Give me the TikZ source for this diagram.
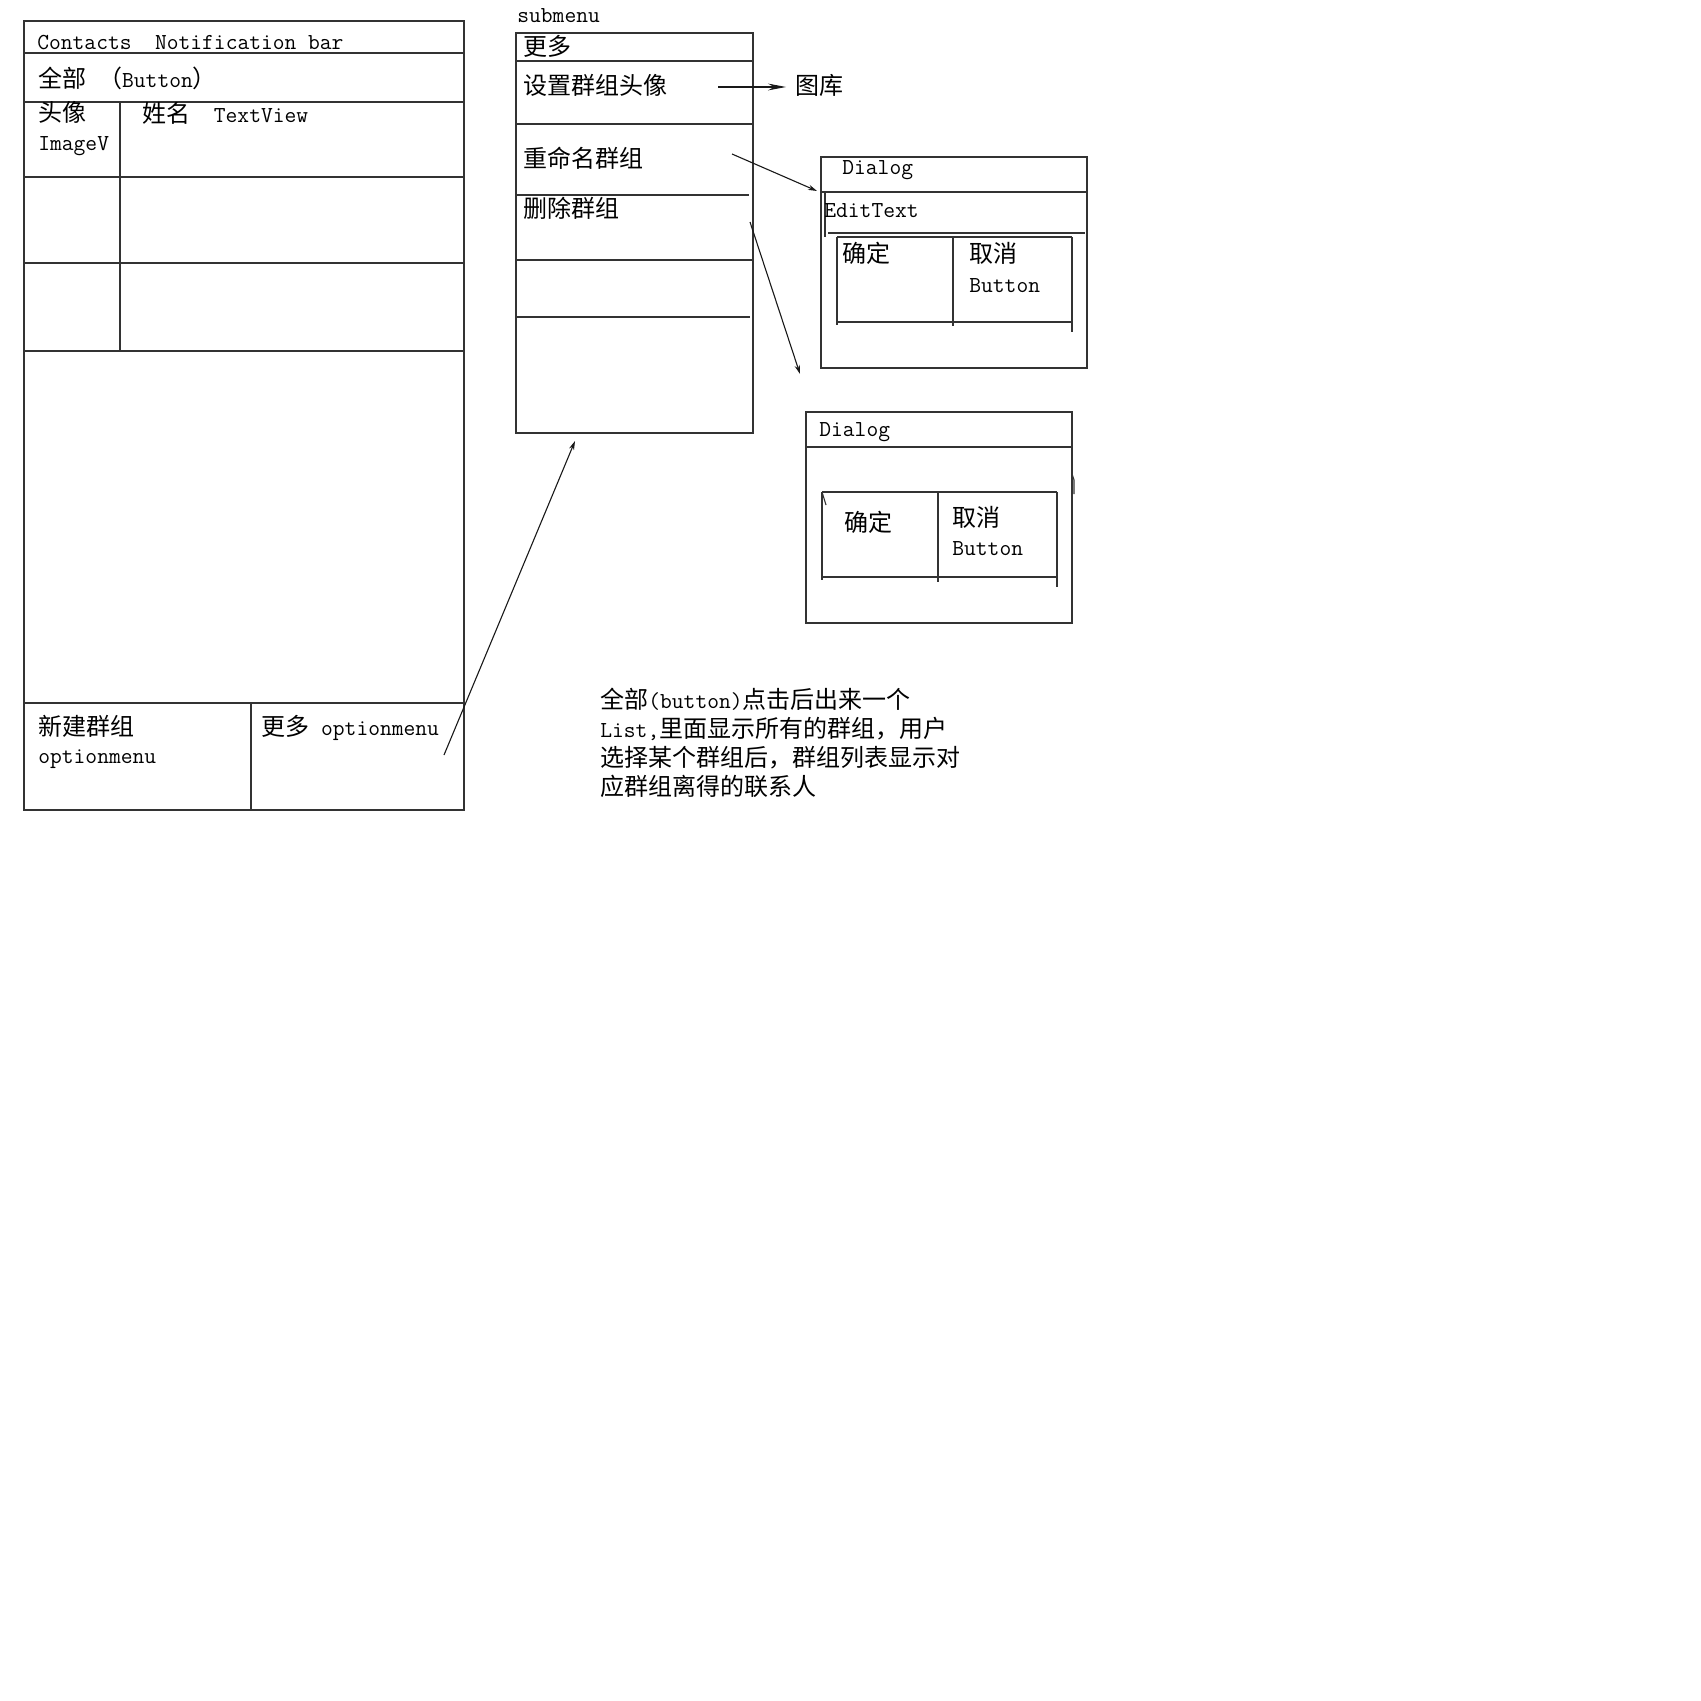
\documentclass[tikz,border=0pt]{standalone}
\usepackage{fontspec}
\newfontfamily\cjk{Noto Sans CJK SC}[Scale=1.05]
\usetikzlibrary{arrows.meta}
\tikzset{
  ln/.style={draw=black!80, line width=0.55pt},
  txt/.style={anchor=base west, inner sep=0pt, font=\ttfamily\fontsize{11.43}{14}\selectfont},
  arr/.style={draw=black!90, line width=0.55pt, -{Stealth[length=4.5pt,width=2.6pt]}},
  bigarr/.style={draw=black!90, line width=0.55pt, -{Stealth[length=9pt,width=3.4pt,inset=3pt]}}
}
\begin{document}
\begin{tikzpicture}[x=0.5pt,y=-0.5pt]
\useasboundingbox[fill=white] (0,0) rectangle (1701,1701);

% ---------- main screen ----------
\draw[ln] (24,21) rectangle (464,810);
\draw[ln] (24,53) -- (464,53);
\draw[ln] (24,102) -- (464,102);
\draw[ln] (24,177) -- (464,177);
\draw[ln] (23,263) -- (464,263);
\draw[ln] (24,351) -- (464,351);
\draw[ln] (24,703) -- (464,703);
\draw[ln] (120,102) -- (120,351);
\draw[ln] (251,703) -- (251,810);

\node[txt] (contacts) at (37,50) {Contacts\ \ Notification bar};
\node[txt] (all) at (38,88) {{\cjk 全部} {\cjk （}Button{\cjk ）}};
\node[txt] (avatar) at (38,122) {{\cjk 头像}};
\node[txt] (imagev) at (38,151) {ImageV};
\node[txt] (name) at (142,123) {{\cjk 姓名}\ \ TextView};
\node[txt] (newgrp) at (38,735) {{\cjk 新建群组}};
\node[txt] (newopt) at (38,763) {optionmenu};
\node[txt] (moreopt) at (261,735) {{\cjk 更多} optionmenu};

% ---------- submenu ----------
\node[txt] (sublabel) at (517,23) {submenu};
\draw[ln] (516,33) rectangle (753,433);
\draw[ln] (516,61) -- (753,61);
\draw[ln] (516,124) -- (753,124);
\draw[ln] (516,195) -- (749,195);
\draw[ln] (516,260) -- (753,260);
\draw[ln] (516,317) -- (750,317);

\node[txt] (more) at (523,56) {{\cjk 更多}};
\node[txt] (setavatar) at (523,95) {{\cjk 设置群组头像}};
\node[txt] (rename) at (523,168) {{\cjk 重命名群组}};
\node[txt] (delete) at (523,218) {{\cjk 删除群组}};
\node[txt] (gallery) at (795,95) {{\cjk 图库}};

% ---------- dialog 1 ----------
\draw[ln] (821,157) rectangle (1087,368);
\draw[ln] (821,192) -- (1087,192);
\draw[ln] (825,192) -- (825,237);
\draw[ln] (828,233) -- (1085,233);
\draw[ln] (837,237) -- (1072,237);
\draw[ln] (837,237) -- (837,325);
\draw[ln] (837,322) -- (1072,322);
\draw[ln] (1072,237) -- (1072,332);
\draw[ln] (953,237) -- (953,326);
\node[txt] (dlg1) at (842,175) {Dialog};
\node[txt] (edit) at (824,218) {EditText};
\node[txt] (ok1) at (842,263) {{\cjk 确定}};
\node[txt] (cancel1) at (969,263) {{\cjk 取消}};
\node[txt] (btn1) at (969,293) {Button};

% ---------- dialog 2 ----------
\draw[ln] (806,412) rectangle (1072,623);
\draw[ln] (806,447) -- (1072,447);
\draw[ln] (822,492) -- (1057,492);
\draw[ln] (822,492) -- (822,580);
\draw[ln] (822,492) -- (826,505);
\draw[ln] (822,577) -- (1057,577);
\draw[ln] (1057,492) -- (1057,587);
\draw[ln] (938,492) -- (938,582);
\draw[ln] (1072,474) -- (1074,480) -- (1074,494);
\node[txt] (dlg2) at (819,437) {Dialog};
\node[txt] (ok2) at (844,531) {{\cjk 确定}};
\node[txt] (cancel2) at (952,526) {{\cjk 取消}};
\node[txt] (btn2) at (952,555) {Button};

% ---------- note ----------
\node[txt] (p1) at (600,708) {{\cjk 全部}(button){\cjk 点击后出来一个}};
\node[txt] (p2) at (600,737) {List,{\cjk 里面显示所有的群组，用户}};
\node[txt] (p3) at (600,766) {{\cjk 选择某个群组后，群组列表显示对}};
\node[txt] (p4) at (600,795) {{\cjk 应群组离得的联系人}};

% ---------- connectors ----------
\coordinate (aS) at (444,755);
\coordinate (aE) at (575,441);
\coordinate (gS) at (718,87);
\coordinate (gE) at (786,87);
\coordinate (rS) at (732,154);
\coordinate (rE) at (817,191);
\coordinate (dS) at (750,222);
\coordinate (dE) at (800,374);
\draw[arr] (aS) -- (aE);
\draw[bigarr] (gS) -- (gE);
\draw[arr] (rS) -- (rE);
\draw[arr] (dS) -- (dE);
\end{tikzpicture}
\end{document}
